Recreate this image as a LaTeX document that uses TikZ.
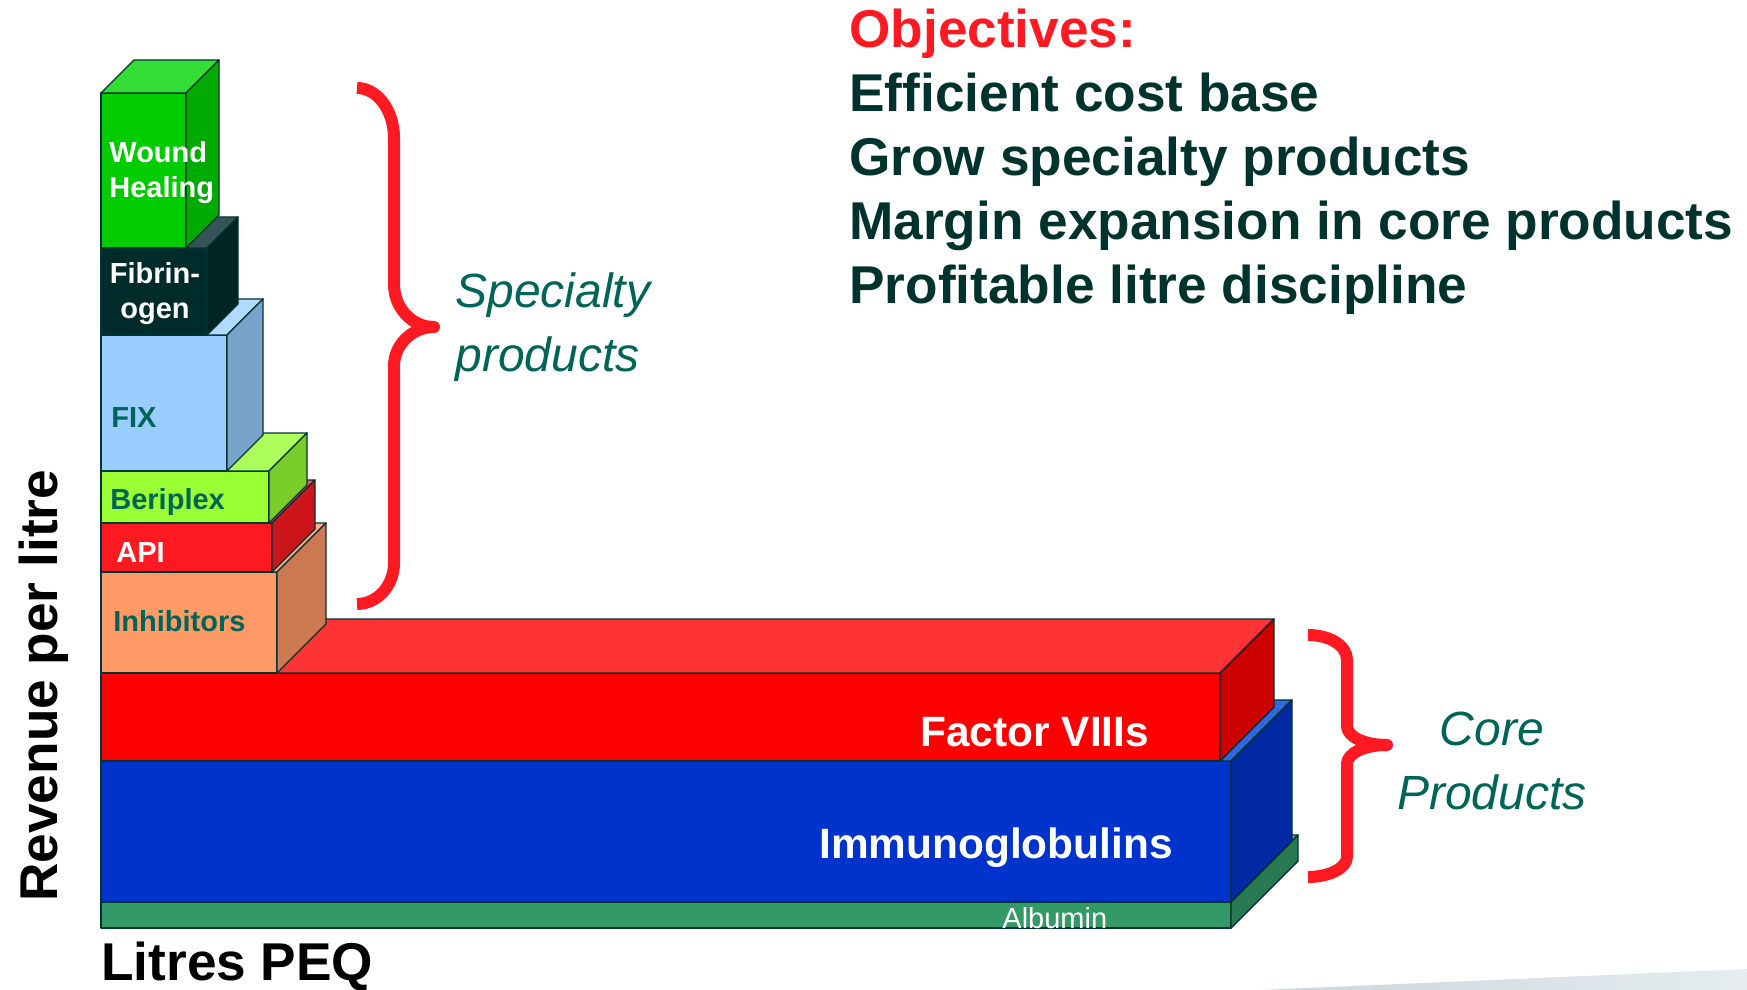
\documentclass[tikz,border=0pt]{standalone}
\usepackage{fontspec}
\setmainfont{Liberation Sans}
\usepackage{tikz}

\definecolor{boxedge}{HTML}{003333}
\definecolor{bracered}{HTML}{FF1A22}
\definecolor{tealtext}{HTML}{006458}
\definecolor{objtext}{HTML}{00332E}
\definecolor{swoosh}{HTML}{C8D6DC}

\definecolor{albfront}{HTML}{339966}
\definecolor{albtop}{HTML}{5CAD85}
\definecolor{albside}{HTML}{297A52}
\definecolor{igfront}{HTML}{0033CC}
\definecolor{igtop}{HTML}{3366DD}
\definecolor{igside}{HTML}{0029A3}
\definecolor{fviiifront}{HTML}{FF0000}
\definecolor{fviiitop}{HTML}{FF3333}
\definecolor{fviiiside}{HTML}{CC0000}
\definecolor{inhfront}{HTML}{FF9966}
\definecolor{inhtop}{HTML}{FFB08A}
\definecolor{inhside}{HTML}{CC7A52}
\definecolor{apifront}{HTML}{FF1A22}
\definecolor{apitop}{HTML}{FF4D55}
\definecolor{apiside}{HTML}{CC151B}
\definecolor{berfront}{HTML}{99FF33}
\definecolor{bertop}{HTML}{ADFF5C}
\definecolor{berside}{HTML}{7ACC29}
\definecolor{fixfront}{HTML}{99CCFF}
\definecolor{fixtop}{HTML}{B3D9FF}
\definecolor{fixside}{HTML}{7AA3CC}
\definecolor{fibfront}{HTML}{002B2B}
\definecolor{fibtop}{HTML}{335555}
\definecolor{fibside}{HTML}{002424}
\definecolor{woundfront}{HTML}{00CC00}
\definecolor{woundtop}{HTML}{33DD33}
\definecolor{woundside}{HTML}{00AA00}

% left, top, right, bottom, depth, colour prefix
\newcommand{\prodbox}[6]{%
        \filldraw[boxline, fill=#6front] (#1,#2) rectangle (#3,#4);
        \filldraw[boxline, fill=#6top] (#1,#2) -- (#1+#5,#2-#5) -- (#3+#5,#2-#5) -- (#3,#2) -- cycle;
        \filldraw[boxline, fill=#6side] (#3,#2) -- (#3+#5,#2-#5) -- (#3+#5,#4-#5) -- (#3,#4) -- cycle;
}

\begin{document}
\begin{tikzpicture}[x=0.5pt,y=-0.5pt,
        boxline/.style={draw=boxedge,line width=0.7pt,line join=round},
        brace/.style={draw=bracered,line width=6pt,line join=round},
        heading/.style={font=\fontsize{26.6}{32}\selectfont\bfseries,inner sep=0pt},
        side label/.style={font=\fontsize{24}{32}\selectfont\itshape,text=tealtext,inner sep=0pt},
        stack label/.style={font=\fontsize{14.5}{17.5}\selectfont\bfseries,inner sep=0pt},
        core label/.style={font=\fontsize{21.2}{25}\selectfont\bfseries,text=white,inner sep=0pt}]

        \useasboundingbox (0,0) rectangle (1747,990);

        \shade[left color=swoosh, right color=swoosh!45] (1261,990) -- (1747,969) -- (1747,990) -- cycle;

        \prodbox{101}{902}{1231}{928}{67}{alb}
        \prodbox{101}{761}{1231}{902}{61}{ig}
        \prodbox{101}{673}{1220}{761}{54}{fviii}
        \prodbox{101}{572}{277}{673}{49}{inh}
        \prodbox{101}{523}{272}{572}{43}{api}
        \prodbox{101}{471}{269}{523}{38}{ber}
        \prodbox{101}{335}{227}{471}{36}{fix}
        \prodbox{101}{248}{207}{335}{31}{fib}
        \prodbox{101}{93}{186}{248}{33}{wound}

        \node[stack label, text=white, align=left, anchor=north west] (wound) at (109,141) {Wound\\Healing};
        \node[stack label, text=white, align=center, anchor=north] (fibrin) at (155,262) {Fibrin-\\ogen};
        \node[stack label, text=tealtext, anchor=base west] (fix) at (111,427) {FIX};
        \node[stack label, text=tealtext, anchor=base west] (beriplex) at (110,509) {Beriplex};
        \node[stack label, text=white, anchor=base west] (api) at (116,562) {API};
        \node[stack label, text=tealtext, anchor=base west] (inhib) at (113,631) {Inhibitors};

        \node[core label, anchor=base west] (fviii) at (920,746) {Factor VIIIs};
        \node[core label, anchor=base west] (immuno) at (819,858) {Immunoglobulins};
        \node[font=\fontsize{14.5}{17}\selectfont, text=white, inner sep=0pt, anchor=base west] (albumin) at (1002,928) {Albumin};

        % braces
        \draw[brace] (357,88) .. controls (377,88) and (394,110) .. (394,138) -- (394,284)
                .. controls (394,308) and (412,327) .. (434,327)
                .. controls (412,327) and (394,345) .. (394,366) -- (394,563)
                .. controls (394,586) and (377,604) .. (357,604);
        \draw[brace] (1308,635) .. controls (1329,635) and (1347,645) .. (1347,660) -- (1347,726)
                .. controls (1347,737) and (1365,745) .. (1387,745)
                .. controls (1365,745) and (1347,753) .. (1347,764) -- (1347,857)
                .. controls (1347,868) and (1329,877) .. (1308,877);

        \node[side label, align=left, anchor=north west] (specialty) at (455,272) {Specialty\\products};
        \node[side label, align=center, anchor=north] (core) at (1492,712) {Core\\Products};

        \node[heading, align=left, anchor=north west, text=objtext] (objectives) at (849,9)
                {\textcolor{bracered}{Objectives:}\\Efficient cost base\\Grow specialty products\\Margin expansion in core products\\Profitable litre discipline};

        \node[heading, anchor=base west] (litres) at (101,980) {Litres PEQ};
        \node[heading, rotate=90, anchor=base west] (revenue) at (57,902) {Revenue per litre};
      \end{tikzpicture}
\end{document}
